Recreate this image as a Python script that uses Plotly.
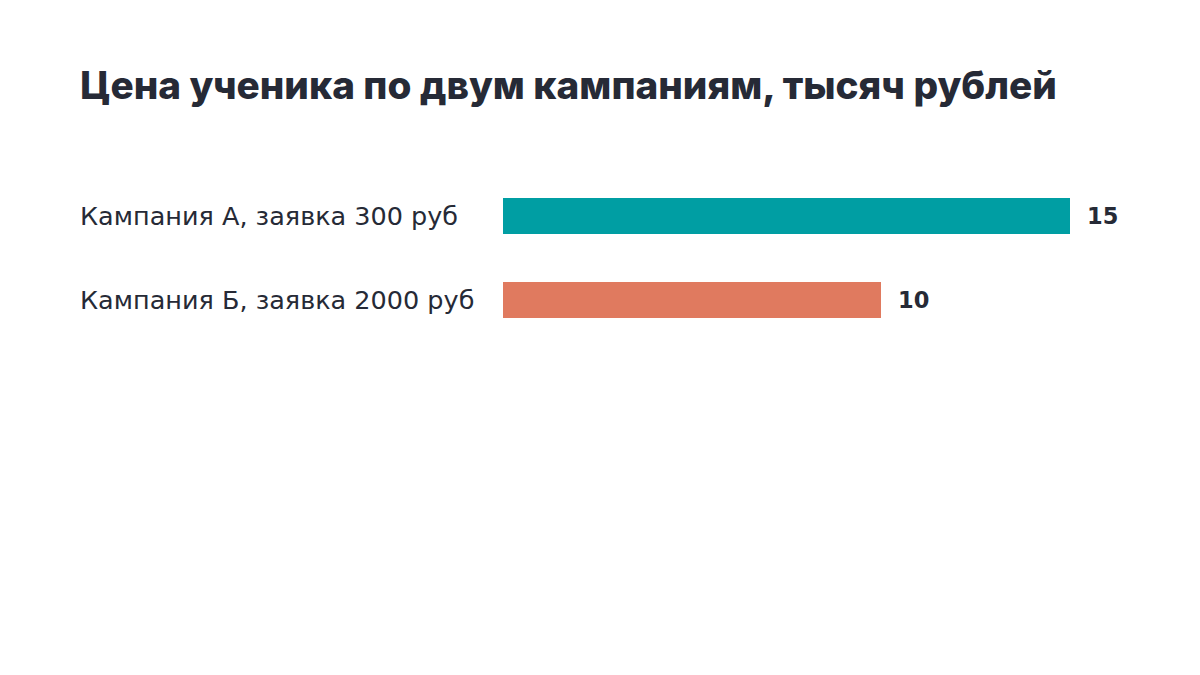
import plotly.graph_objects as go

TITLE = "Цена ученика по двум кампаниям, тысяч рублей"
CATEGORIES = ["Кампания А, заявка 300 руб", "Кампания Б, заявка 2000 руб"]
VALUES = [15, 10]
COLORS = ["#009EA3", "#E07A5F"]

TEXT_COLOR = "#262A36"

# pixel layout (page adds an 8px body margin, so everything is shifted back)
OFF = 8
W, H = 1200, 675
LEFT, RIGHT = 503 - OFF, 100
TOP, PLOT_H = 174 - OFF, 168
PX_PER_UNIT = 567 / 15

plot_w = W - LEFT - RIGHT
x_max = plot_w / PX_PER_UNIT

fig = go.Figure()
fig.add_trace(go.Bar(
    x=VALUES, y=CATEGORIES, orientation="h",
    marker=dict(color=COLORS, line=dict(width=0)),
    width=36 / 84,
    hoverinfo="skip",
))

# category labels, left aligned
for cat in CATEGORIES:
    fig.add_annotation(
        x=(80 - OFF - 2 - LEFT) / plot_w, xref="paper", xanchor="left",
        y=cat, yref="y", yanchor="middle",
        text=cat, showarrow=False,
        font=dict(family="DejaVu Sans", size=25.5, color=TEXT_COLOR),
    )

# value labels next to bar ends
for cat, v in zip(CATEGORIES, VALUES):
    fig.add_annotation(
        x=v, xref="x", xanchor="left", xshift=15,
        y=cat, yref="y", yanchor="middle",
        text=str(v), showarrow=False,
        font=dict(family="DejaVu Sans", size=22.5, weight=700, color=TEXT_COLOR),
    )

fig.update_layout(
    width=W, height=H,
    margin=dict(l=LEFT, r=RIGHT, t=TOP, b=H - TOP - PLOT_H),
    paper_bgcolor="white", plot_bgcolor="white",
    title=dict(
        text=TITLE, xref="container", x=(80 - OFF) / W, xanchor="left",
        yref="container", y=1 - (85 - OFF) / H, yanchor="middle",
        font=dict(family="Inter", size=38.7, weight=800, color=TEXT_COLOR),
    ),
    xaxis=dict(range=[0, x_max], visible=False, fixedrange=True),
    yaxis=dict(autorange="reversed", visible=False, fixedrange=True),
    showlegend=False,
)

fig.write_html("out.html")
